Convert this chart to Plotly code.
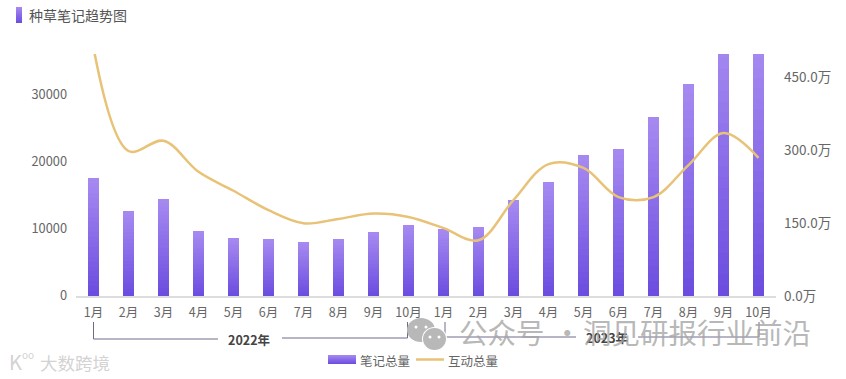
import plotly.graph_objects as go

months = ["1月","2月","3月","4月","5月","6月","7月","8月","9月","10月",
          "1月","2月","3月","4月","5月","6月","7月","8月","9月","10月"]
notes = [17500,12600,14400,9600,8600,8400,8000,8500,9500,10500,
         9900,10200,14300,17000,21000,21800,26600,31500,38500,37000]
interact = [512,299,320,256,217,177,150,159,170,163,
            140,115,198,272,264,204,204,270,336,285]
left_ticks = [0,10000,20000,30000]
left_labels = ["0","10000","20000","30000"]
right_ticks = [0,150,300,450]
right_labels = ["0.0万","150.0万","300.0万","450.0万"]

W, H = 846, 379
L, R, T, B = 76, 70, 54, 83
TOP = (0.655, 0.545, 0.945)   # light
BOT = (0.42, 0.30, 0.88)      # dark
FONT = "Noto Sans CJK SC"
GREY = "#666666"

def mix(t):
    c = [TOP[i]*t + BOT[i]*(1-t) for i in range(3)]
    return "rgb(%d,%d,%d)" % tuple(int(v*255) for v in c)

px = lambda x: (x - L) / (W - L - R)
py = lambda y: (H - B - y) / (H - T - B)
idx = list(range(len(months)))
N = 24

fig = go.Figure()
for s in range(N):
    fig.add_trace(go.Bar(x=idx, y=[v/N for v in notes], marker=dict(color=mix((s+0.5)/N), line=dict(width=0)),
                         width=0.34, showlegend=False, yaxis="y", hoverinfo="skip"))
fig.add_trace(go.Scatter(x=idx, y=interact, mode="lines", yaxis="y2", showlegend=False,
                         line=dict(color="#E8C277", width=2.5, shape="spline", smoothing=1.0)))

shapes = []
ann = []

def paper_rect(x0, y0, x1, y1):
    steps = int(y1 - y0)
    for i in range(steps):
        shapes.append(dict(type="rect", xref="paper", yref="paper", x0=px(x0), x1=px(x1),
                           y0=py(y0+i), y1=py(y0+i+1), line=dict(width=0), fillcolor=mix(1-(i+0.5)/steps)))

def text(x, y, s, size=12, color=GREY, anchor="left", bold=False):
    ann.append(dict(xref="paper", yref="paper", x=px(x), y=py(y), text=("<b>%s</b>" % s) if bold else s,
                    showarrow=False, xanchor=anchor, yanchor="middle", borderpad=0, borderwidth=0,
                    font=dict(family=FONT, size=size, color=color)))

def line(x0, y0, x1, y1, color="#6f6a8c", width=1):
    shapes.append(dict(type="line", xref="paper", yref="paper", x0=px(x0), x1=px(x1),
                       y0=py(y0), y1=py(y1), line=dict(color=color, width=width)))

def ellipse(cx, cy, rx, ry, color):
    shapes.append(dict(type="circle", xref="paper", yref="paper", x0=px(cx-rx), x1=px(cx+rx),
                       y0=py(cy-ry), y1=py(cy+ry), line=dict(width=0), fillcolor=color))

# title
paper_rect(16, 7, 22, 23)
text(29, 15, "种草笔记趋势图", size=14, color="#555555")

# year brackets
line(93.5, 322, 93.5, 339); line(93.5, 339, 218, 339)
line(282, 338, 407.5, 338); line(407.5, 338, 407.5, 322)
text(249, 339, "2022年", size=12.5, color="#444444", anchor="center", bold=True)
line(445, 337, 576, 337); line(638, 337, 759, 337)
line(445, 322, 445, 337); line(759, 322, 759, 337)
text(607, 337, "2023年", size=12.5, color="#444444", anchor="center", bold=True)

# legend
paper_rect(328, 355, 356, 364)
text(360, 360, "笔记总量", size=12.5)
line(416, 359.5, 444, 359.5, color="#E8C277", width=2.5)
text(448, 360, "互动总量", size=12.5)

# watermarks
ellipse(421, 330, 14, 12, "#b8b8b8")
ellipse(434.5, 339, 12.5, 12, "white")
ellipse(434.5, 339, 11.5, 11, "#b8b8b8")
for (cx, cy) in [(416, 327), (426, 327), (430, 337), (439, 337)]:
    ellipse(cx, cy, 1.5, 1.5, "white")
WM = "rgba(165,165,165,0.8)"
text(459, 331, "公众号", size=28.5, color=WM)
text(567, 331, "·", size=28.5, color=WM, anchor="center")
text(583, 331, "洞见研报行业前沿", size=28.5, color=WM)
LOGO = "rgba(205,205,205,0.9)"
text(40, 362, "大数跨境", size=17.5, color=LOGO)
text(9, 361, "K", size=20, color=LOGO)
text(22, 354, "oo", size=10, color=LOGO)

fig.update_layout(
    width=W, height=H, autosize=False, barmode="stack", bargap=0.67,
    margin=dict(l=L, r=R, t=T, b=B, pad=0),
    plot_bgcolor="white", paper_bgcolor="white", showlegend=False,
    font=dict(family=FONT, size=12, color=GREY),
    xaxis=dict(range=[-0.5, 19.5], tickmode="array", tickvals=idx, ticktext=months, showgrid=False,
               zeroline=False, showline=True, linecolor="#dddddd", linewidth=2, ticks="",
               tickfont=dict(family=FONT, size=12.5, color=GREY), tickangle=0, ticklabelstandoff=4),
    yaxis=dict(range=[0, 35950], tickmode="array", tickvals=left_ticks, ticktext=left_labels, showgrid=False,
               zeroline=False, showline=False, ticks="", tickfont=dict(family=FONT, size=12.8, color=GREY),
               ticklabelstandoff=8),
    yaxis2=dict(range=[0, 499], overlaying="y", side="right", tickmode="array", tickvals=right_ticks,
                ticktext=right_labels, showgrid=False, zeroline=False, showline=False, ticks="",
                tickfont=dict(family=FONT, size=13.5, color=GREY), ticklabelstandoff=7),
    shapes=shapes, annotations=ann,
)
fig.write_html("out.html", config=dict(displayModeBar=False),
               post_script="document.body.style.margin='0';document.body.style.overflow='hidden';")
